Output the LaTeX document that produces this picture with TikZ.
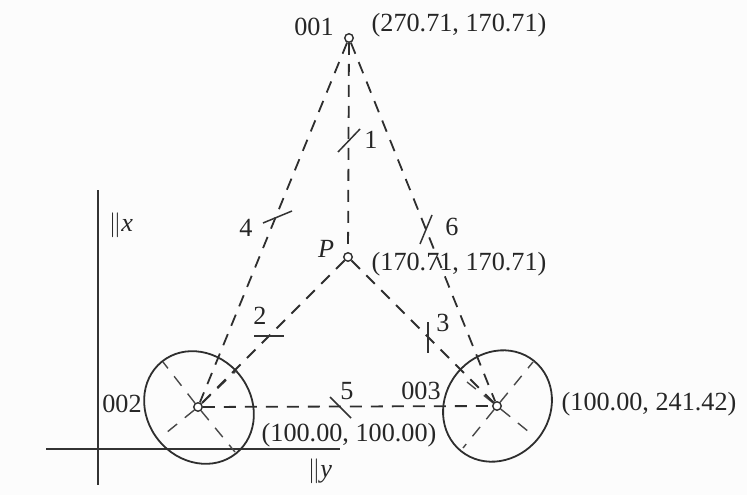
\documentclass[tikz,border=0pt]{standalone}
\usepackage{fontspec}
\setmainfont{Liberation Serif}
\begin{document}
\begin{tikzpicture}[x=1pt,y=-1pt,
  ink/.style={draw=black!82,line width=1.8pt},
  conn/.style={ink,dash pattern=on 12pt off 9pt},
  axisline/.style={draw=black!72,line width=1.4pt,dash pattern=on 12pt off 10pt},
  tick/.style={draw=black!80,line width=1.5pt},
  rule/.style={draw=black!80,line width=1.2pt},
  vertex/.style={circle,draw=black!82,line width=1.4pt,fill=white,inner sep=0pt,minimum size=8.5pt},
  lab/.style={inner sep=0pt,text=black!85,font=\fontsize{26.2}{29}\selectfont}]
\useasboundingbox (0,0) rectangle (747,495);
\fill[white!99!black] (0,0) rectangle (747,495);
% axes
\coordinate (xa) at (98,190); \coordinate (xb) at (98,485);
\coordinate (ya) at (46,449); \coordinate (yb) at (340,449);
\draw[rule] (xa) -- (xb);
\draw[rule] (ya) -- (yb);
% rings
\coordinate (c2) at (199,407.5);
\coordinate (c3) at (497.5,406);
\draw[ink,rotate around={-51:(c2)}] (c2) ellipse [x radius=59pt,y radius=52pt];
\draw[ink,rotate around={51:(c3)}] (c3) ellipse [x radius=58pt,y radius=52pt];
% vertices
\node[vertex] (n1) at (349,38) {};
\node[vertex] (nP) at (348,257) {};
\node[vertex] (n2) at (198,407) {};
\node[vertex] (n3) at (497,406) {};
% ring axes
\coordinate (a2a) at (163,362); \coordinate (a2b) at (235,452);
\coordinate (a2c) at (166,433); \coordinate (a2d) at (237,370);
\coordinate (a3a) at (463,448); \coordinate (a3b) at (533,362);
\coordinate (a3c) at (467,382); \coordinate (a3d) at (529,432);
\draw[axisline] (n2) -- (a2a);
\draw[axisline] (n2) -- (a2b);
\draw[axisline] (n2) -- (a2c);
\draw[axisline] (n2) -- (a2d);
\draw[axisline] (n3) -- (a3a);
\draw[axisline] (n3) -- (a3b);
\draw[axisline] (n3) -- (a3c);
\draw[axisline] (n3) -- (a3d);
% connectors
\draw[conn] (n1) -- (nP);
\draw[conn] (n1) -- (n2);
\draw[conn] (n1) -- (n3);
\draw[conn] (nP) -- (n2);
\draw[conn] (nP) -- (n3);
\draw[conn] (n2) -- (n3);
% ticks
\coordinate (t1a) at (338,152); \coordinate (t1b) at (360,129);
\coordinate (t2a) at (254,336); \coordinate (t2b) at (284,336);
\coordinate (t3a) at (428,322); \coordinate (t3b) at (428,353);
\coordinate (t4a) at (263,223); \coordinate (t4b) at (292,211);
\coordinate (t5a) at (330,397); \coordinate (t5b) at (351,418);
\coordinate (t6a) at (432,215); \coordinate (t6b) at (420,244);
\draw[tick] (t1a) -- (t1b);
\draw[tick] (t2a) -- (t2b);
\draw[tick] (t3a) -- (t3b);
\draw[tick] (t4a) -- (t4b);
\draw[tick] (t5a) -- (t5b);
\draw[tick] (t6a) -- (t6b);
% labels
\node[lab] (l001) at (314,27) {001};
\node[lab] (lc1) at (459,25) {(270.71, 170.71)};
\node[lab] (lcP) at (459,264) {(170.71, 170.71)};
\node[lab] (lP) at (326,249) {\textit{P}};
\node[lab] (lc2) at (349,435) {(100.00, 100.00)};
\node[lab] (lc3) at (649,404) {(100.00, 241.42)};
\node[lab] (l002) at (122,404) {002};
\node[lab] (l003) at (421,391) {003};
\node[lab] (l1) at (371,140) {1};
\node[lab] (l2) at (260,316) {2};
\node[lab] (l3) at (443,323) {3};
\node[lab] (l4) at (246,228) {4};
\node[lab] (l5) at (347,391) {5};
\node[lab] (l6) at (452,227) {6};
\node[lab] (lx) at (121,225) {$\|$\textit{x}};
\node[lab] (ly) at (320,471) {$\|$\textit{y}};
\end{tikzpicture}
\end{document}
